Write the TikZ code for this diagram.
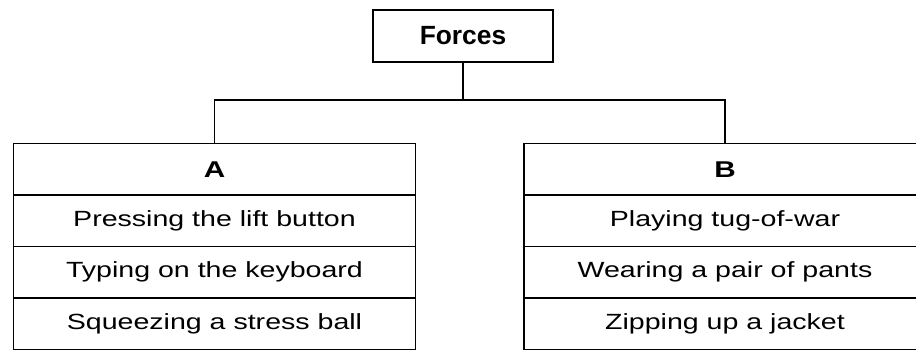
\documentclass[tikz,border=0pt]{standalone}
\usepackage{fontspec}
\setmainfont{Liberation Sans}[FakeStretch=1.3]
\newfontfamily\titlefont{Liberation Sans}
\usetikzlibrary{positioning}

\begin{document}
\begin{tikzpicture}[line width=1.1pt,
cell/.style={rectangle,draw = black,minimum width=8.04cm,minimum height=1.03cm,inner sep=0pt,outer sep=0pt,font=\fontsize{12.5}{15}\selectfont},
head/.style={cell,font=\fontsize{13}{15}\selectfont\bfseries}]
\useasboundingbox (0,0) rectangle (18.32,-7.2);
\node[rectangle,draw = black,minimum width=3.6cm,minimum height=1.04cm,font=\titlefont\fontsize{15}{18}\selectfont\bfseries](v0) at(9.26,-0.72){Forces};

\node[head](a0) at(4.29,-3.385){A};
\node[cell,below=0pt of a0](a1){Pressing the lift button};
\node[cell,below=0pt of a1](a2){Typing on the keyboard};
\node[cell,below=0pt of a2](a3){Squeezing a stress ball};

\node[head](b0) at(14.5,-3.385){B};
\node[cell,below=0pt of b0](b1){Playing tug-of-war};
\node[cell,below=0pt of b1](b2){Wearing a pair of pants};
\node[cell,below=0pt of b2](b3){Zipping up a jacket};

\draw(v0.south)--++(0,-0.74)coordinate(v);
\draw(a0.north)|-(v)-|(b0.north);
\end{tikzpicture}
\end{document}
